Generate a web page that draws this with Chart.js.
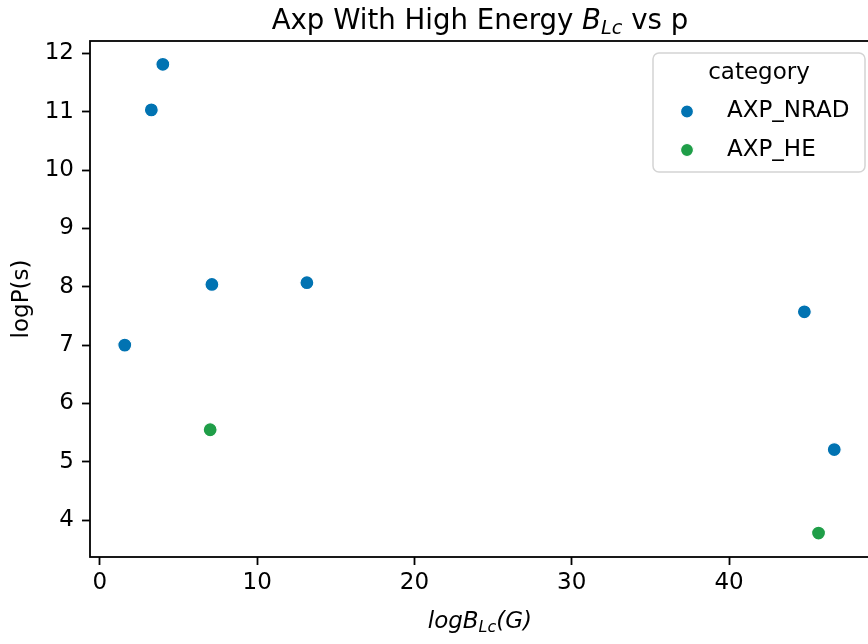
<!DOCTYPE html>
<html>
<head>
<meta charset="utf-8">
<script src="https://cdn.jsdelivr.net/npm/chart.js@4.4.0/dist/chart.umd.min.js"></script>
<style>
html, body { margin: 0; padding: 0; background: #fff; overflow: hidden; }
#wrap { width: 878px; height: 644px; position: relative; }
</style>
</head>
<body>
<div id="wrap"><canvas id="Chart1"></canvas></div>
<script>
// values
var nradX = [4.0, 3.27, 7.12, 13.16, 1.58, 44.79, 46.69];
var nradY = [11.81, 11.03, 8.04, 8.07, 7.0, 7.57, 5.21];
var heX = [7.01, 45.69];
var heY = [5.55, 3.78];
var seriesNames = ["AXP_NRAD", "AXP_HE"];
var seriesColors = ["#0173b2", "#1f9e48"];
var xTicks = [0, 10, 20, 30, 40];
var yTicks = [4, 5, 6, 7, 8, 9, 10, 11, 12];

var FONT = "'DejaVu Sans', sans-serif";

function toPoints(xs, ys) {
    var pts = [];
    xs.forEach(function(x, i){ pts.push({x: x, y: ys[i]}); });
    return pts;
}

// draw a run of text pieces (for the little subscripts) centred on cx
function drawPieces(ctx, pieces, cx, y) {
    var total = 0;
    pieces.forEach(function(p){ ctx.font = p.font; total += ctx.measureText(p.text).width; });
    var x = cx - total / 2;
    ctx.textAlign = 'left';
    ctx.textBaseline = 'alphabetic';
    pieces.forEach(function(p){
        ctx.font = p.font;
        ctx.fillText(p.text, x, y + (p.dy || 0));
        x += ctx.measureText(p.text).width;
    });
}

var decor = {
    id: 'decor',
    afterDraw: function(chart) {
        var ctx = chart.ctx;
        var a = chart.chartArea;
        ctx.save();
        // frame
        ctx.strokeStyle = '#000';
        ctx.lineWidth = 1.8;
        ctx.strokeRect(a.left, a.top, a.right - a.left, a.bottom - a.top);

        ctx.fillStyle = '#000';
        // title
        drawPieces(ctx, [
            {text: 'Axp With High Energy ', font: '27.6px ' + FONT},
            {text: 'B', font: 'italic 27.6px ' + FONT},
            {text: 'Lc', font: 'italic 19.3px ' + FONT, dy: 5},
            {text: ' vs p', font: '27.6px ' + FONT}
        ], (a.left + a.right) / 2, 29);

        // x label
        drawPieces(ctx, [
            {text: 'logB', font: 'italic 23px ' + FONT},
            {text: 'Lc', font: 'italic 16px ' + FONT, dy: 4},
            {text: '(G)', font: 'italic 23px ' + FONT}
        ], (a.left + a.right) / 2, 628);

        // y label
        ctx.save();
        ctx.translate(22, (a.top + a.bottom) / 2);
        ctx.rotate(-Math.PI / 2);
        ctx.font = '23px ' + FONT;
        ctx.textAlign = 'center';
        ctx.textBaseline = 'middle';
        ctx.fillText('logP(s)', 0, 0);
        ctx.restore();

        // legend
        var bx = 653, by = 53, bw = 212, bh = 119, r = 6;
        ctx.beginPath();
        ctx.moveTo(bx + r, by);
        ctx.arcTo(bx + bw, by, bx + bw, by + bh, r);
        ctx.arcTo(bx + bw, by + bh, bx, by + bh, r);
        ctx.arcTo(bx, by + bh, bx, by, r);
        ctx.arcTo(bx, by, bx + bw, by, r);
        ctx.closePath();
        ctx.fillStyle = 'rgba(255,255,255,0.8)';
        ctx.fill();
        ctx.strokeStyle = '#d4d4d4';
        ctx.lineWidth = 1.5;
        ctx.stroke();

        ctx.fillStyle = '#000';
        ctx.font = '23px ' + FONT;
        ctx.textAlign = 'center';
        ctx.textBaseline = 'middle';
        ctx.fillText('category', 759, 73);
        chart.data.datasets.forEach(function(ds, i){
            var yy = 111.5 + i * 38.5;
            ctx.beginPath();
            ctx.arc(687, yy, 6.5, 0, Math.PI * 2);
            ctx.fillStyle = ds.backgroundColor;
            ctx.fill();
            ctx.strokeStyle = '#fff';
            ctx.lineWidth = 1.2;
            ctx.stroke();
            ctx.fillStyle = '#000';
            ctx.textAlign = 'left';
            ctx.fillText(ds.label, 727, yy);
        });
        ctx.restore();
    }
};

var ctxS = document.getElementById("Chart1").getContext('2d');
var myScatter = new Chart(ctxS, {
    type: 'scatter',
    data: {
        datasets: [{
            label: seriesNames[0],
            data: toPoints(nradX, nradY),
            backgroundColor: seriesColors[0],
            borderColor: '#ffffff',
            borderWidth: 1.2,
            pointRadius: 7,
            pointHoverRadius: 7
        }, {
            label: seriesNames[1],
            data: toPoints(heX, heY),
            backgroundColor: seriesColors[1],
            borderColor: '#ffffff',
            borderWidth: 1.2,
            pointRadius: 7,
            pointHoverRadius: 7
        }]
    },
    options: {
        responsive: true,
        maintainAspectRatio: false,
        animation: false,
        layout: { padding: { top: 41, right: 3, left: 0, bottom: 0 } },
        plugins: {
            legend: { display: false },
            title: { display: false },
            tooltip: { enabled: false }
        },
        scales: {
            x: {
                type: 'linear',
                min: -0.63,
                max: 48.95,
                afterFit: function(s){ s.height = 87; },
                afterBuildTicks: function(s){ s.ticks = xTicks.map(function(v){ return {value: v}; }); },
                grid: { drawOnChartArea: false, drawTicks: true, tickLength: 8, tickWidth: 1.8, tickColor: '#000' },
                border: { display: false },
                ticks: { color: '#000', padding: 4, maxRotation: 0, font: { family: FONT, size: 23 } }
            },
            y: {
                type: 'linear',
                min: 3.37,
                max: 12.21,
                afterFit: function(s){ s.width = 90; },
                afterBuildTicks: function(s){ s.ticks = yTicks.map(function(v){ return {value: v}; }); },
                grid: { drawOnChartArea: false, drawTicks: true, tickLength: 8, tickWidth: 1.8, tickColor: '#000' },
                border: { display: false },
                ticks: { color: '#000', padding: 8, font: { family: FONT, size: 23 } }
            }
        }
    },
    plugins: [decor]
});
</script>
</body>
</html>
